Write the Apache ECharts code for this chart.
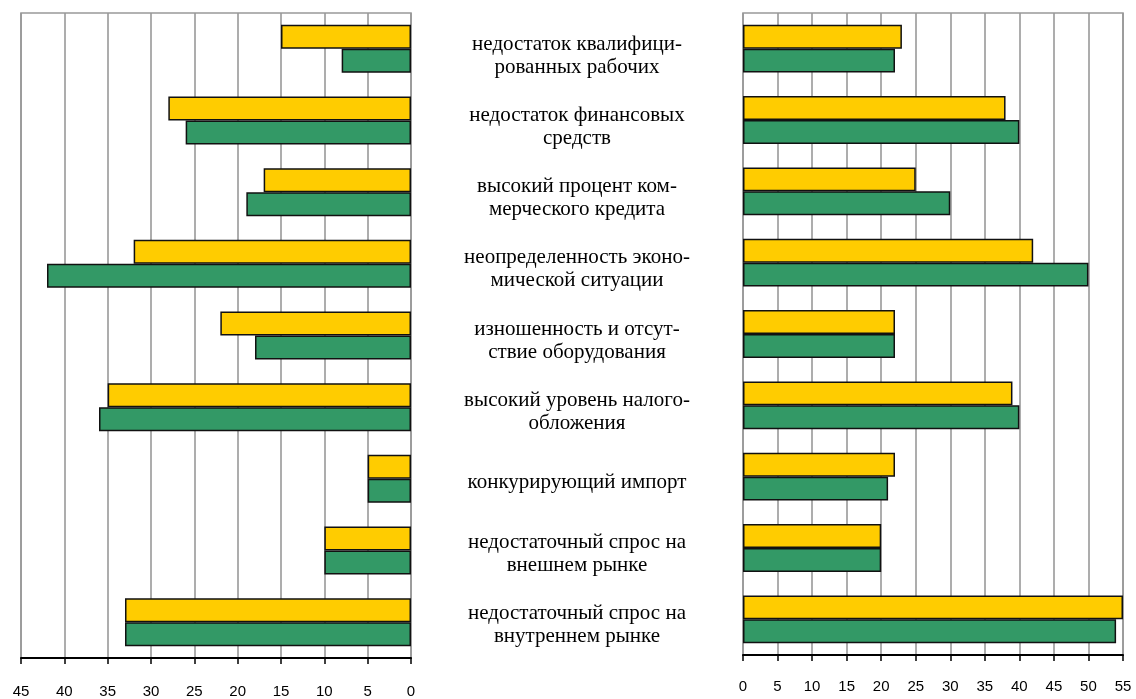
<!DOCTYPE html>
<html>
<head>
<meta charset="utf-8">
<script src="https://cdn.jsdelivr.net/npm/echarts@6/dist/echarts.min.js"></script>
<style>
html,body{margin:0;padding:0;background:#fff;}
#chart{width:1136px;height:699px;}
</style>
</head>
<body>
<div id="chart"></div>
<script>
const categories = [
  "недостаток квалифици-\nрованных рабочих",
  "недостаток финансовых\nсредств",
  "высокий процент ком-\nмерческого кредита",
  "неопределенность эконо-\nмической ситуации",
  "изношенность и отсут-\nствие оборудования",
  "высокий уровень налого-\nобложения",
  "конкурирующий импорт",
  "недостаточный спрос на\nвнешнем рынке",
  "недостаточный спрос на\nвнутреннем рынке"
];
const leftYellow = [15, 28, 17, 32, 22, 35, 5, 10, 33];
const leftGreen  = [8, 26, 19, 42, 18, 36, 5, 10, 33];
const rightYellow = [23, 38, 25, 42, 22, 39, 22, 20, 55];
const rightGreen  = [22, 40, 30, 50, 22, 40, 21, 20, 54];
const leftMax = 45, rightMax = 55, tickStep = 5;

const YELLOW = '#FFCC00', GREEN = '#339966', GRIDC = '#999999';

const chart = echarts.init(document.getElementById('chart'));

function valueAxis(gridIndex, max, inverse, margin) {
  return {
    type: 'value', gridIndex: gridIndex, min: 0, max: max, interval: tickStep,
    inverse: inverse, position: 'bottom',
    axisLine: {show: true, onZero: false, lineStyle: {color: '#000', width: 2}},
    axisTick: {show: true, length: 6, lineStyle: {color: '#000', width: 1.5}},
    axisLabel: {color: '#000', fontFamily: 'Liberation Sans', fontSize: 15, margin: margin},
    splitLine: {show: true, lineStyle: {color: GRIDC, width: 1.6}}
  };
}
function catAxis(gridIndex, showLabels) {
  return {
    type: 'category', gridIndex: gridIndex, data: categories, inverse: true,
    axisLine: {show: false}, axisTick: {show: false}, splitLine: {show: false},
    position: 'left',
    axisLabel: showLabels ? {
      show: true, margin: 166, align: 'center', verticalAlign: 'middle', color: '#000',
      fontFamily: 'Liberation Serif', fontSize: 21, lineHeight: 23
    } : {show: false}
  };
}
function bar(name, data, color, idx) {
  return {
    name: name, type: 'bar', xAxisIndex: idx, yAxisIndex: idx, data: data,
    barCategoryGap: '33%', barGap: '0%',
    itemStyle: {color: color, borderColor: '#111', borderWidth: 1.5},
    silent: true
  };
}

chart.setOption({
  animation: false,
  backgroundColor: '#fff',
  grid: [
    {left: 21, right: 725, top: 13, bottom: 41, show: true, borderColor: GRIDC, borderWidth: 1.6},
    {left: 743, right: 13, top: 13, bottom: 44, show: true, borderColor: GRIDC, borderWidth: 1.6},
    {left: 743, right: 13, top: 20, bottom: 38, show: false}
  ],
  xAxis: [
    valueAxis(0, leftMax, true, 26),
    valueAxis(1, rightMax, false, 24),
    {type: 'value', gridIndex: 2, min: 0, max: rightMax, show: false}
  ],
  yAxis: [catAxis(0, false), catAxis(1, false), catAxis(2, true)],
  series: [
    bar('Ряд 1', leftYellow, YELLOW, 0),
    bar('Ряд 2', leftGreen, GREEN, 0),
    bar('Ряд 1', rightYellow, YELLOW, 1),
    bar('Ряд 2', rightGreen, GREEN, 1)
  ]
});
</script>
</body>
</html>
